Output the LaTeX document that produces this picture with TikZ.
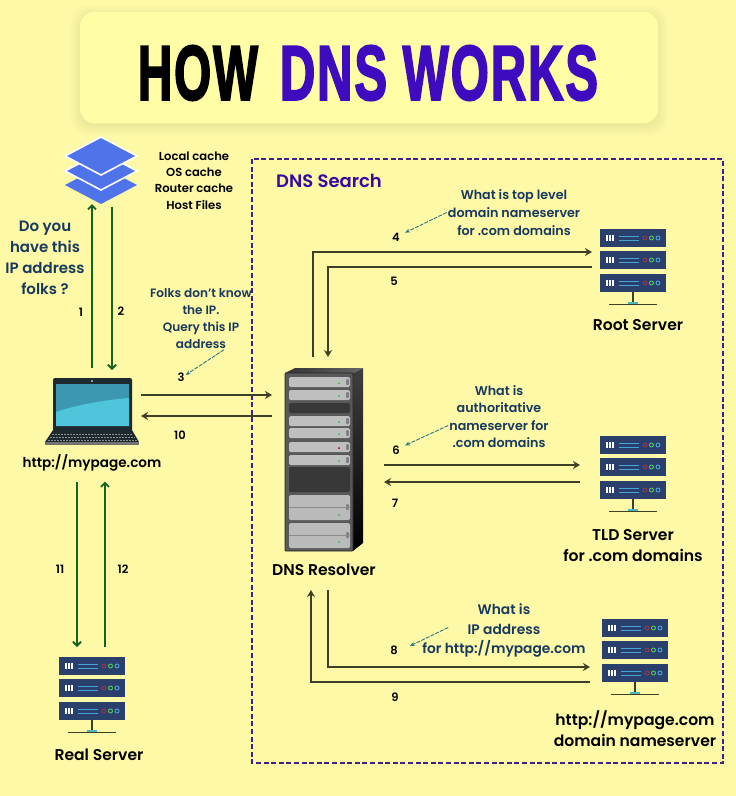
\documentclass[tikz,border=0pt]{standalone}
\usepackage{fontspec}
\setmainfont{Poppins}[BoldFont=Poppins SemiBold]
\newfontfamily\titlefont{Liberation Sans}[BoldFeatures={FakeBold=3,LetterSpace=4}]
\usetikzlibrary{arrows.meta}
\definecolor{pagebg}{HTML}{FDF9A6}
\definecolor{panelbg}{HTML}{FFFEA6}
\definecolor{titleblue}{HTML}{3F0BBE}
\definecolor{boxedge}{HTML}{3D2288}
\definecolor{asknavy}{HTML}{17395F}
\definecolor{flowdark}{HTML}{3F3F26}
\definecolor{flowgreen}{HTML}{14641F}
\definecolor{notearrow}{HTML}{2B7A86}
\definecolor{layerblue}{HTML}{4F74EA}
\definecolor{srvbar}{HTML}{2A3F6C}
\definecolor{srvline}{HTML}{46A4D6}
\definecolor{srvteal}{HTML}{4DB8B8}
\definecolor{lapbezel}{HTML}{1F2A30}
\definecolor{lapscreen}{HTML}{3C98B0}
\definecolor{lapglow}{HTML}{4FC5DC}
\tikzset{
  iconbox/.style={inner sep=0pt,outer sep=0pt},
  asktext/.style={inner sep=1pt,align=center,text=asknavy,font=\bfseries\fontsize{12.7}{17.6}\selectfont},
  srvtext/.style={inner sep=1pt,align=center,text=black,font=\bfseries\fontsize{15.6}{21}\selectfont},
  numtext/.style={inner sep=1pt,text=black,font=\fontsize{11.5}{14}\selectfont\bfseries},
  flowline/.style={draw=flowdark,line width=1.9pt,-{Stealth[length=7pt,width=8pt]}},
  greenline/.style={draw=flowgreen,line width=1.9pt,-{Straight Barb[length=4pt,width=8pt]}},
  noteline/.style={draw=notearrow,line width=.9pt,dash pattern=on 4pt off 1.2pt,-{Stealth[length=5pt,width=4pt]}},
  serverpic/.pic={
    \foreach \bartop in {-38,-16,7} {
      \fill[srvbar] (-33,\bartop) rectangle (33,\bartop+18);
      \foreach \tickx in {-26,-23,-20}
        \draw[white,line width=1.2pt] (\tickx,\bartop+6) -- (\tickx,\bartop+12);
      \draw[srvline,line width=1pt] (-14,\bartop+7) -- (6,\bartop+7);
      \draw[srvline,line width=1pt] (-14,\bartop+11) -- (6,\bartop+11);
      \draw[red!45!srvbar!90!white,line width=.9pt] (12,\bartop+9) circle (2pt);
      \draw[green!60!white!80!black,line width=.9pt] (18.5,\bartop+9) circle (2pt);
      \draw[srvline,line width=.9pt] (25,\bartop+9) circle (2pt);
    }
    \draw[flowdark,line width=1.1pt] (0,25) -- (0,37);
    \draw[flowdark,line width=1.1pt] (-24,37.5) -- (24,37.5);
    \fill[srvteal] (-5,34.5) rectangle (5,37);
  }
}
\begin{document}
\begin{tikzpicture}[x=1pt,y=-1pt]
  \useasboundingbox (0,0) rectangle (736,796);
  \fill[pagebg] (0,0) rectangle (736,796);

  \foreach \grow in {9,7,5,3,1}
    \fill[black,opacity=.012,rounded corners=16pt] (80-\grow,12-\grow+3) rectangle (658+\grow,123+\grow+3);
  \fill[panelbg,rounded corners=14pt] (80,12) rectangle (658,123);

  \path
  (198,73) node[inner sep=0pt,text=black](titlehow) {\resizebox{120pt}{54pt}{\titlefont\bfseries HOW}}
  (439,73) node[inner sep=0pt,text=titleblue](titledns) {\resizebox{318pt}{54pt}{\titlefont\bfseries DNS WORKS}}
  ;

  \draw[boxedge,line width=1.5pt,dash pattern=on 5pt off 2.6pt] (252,159) rectangle (723,763);
  \path
  (329,181) node[inner sep=0pt,text=titleblue!85!black,font=\bfseries\fontsize{18}{20}\selectfont](searchlbl) {DNS Search}
  ;

  % cache stack
  \path
  (101,170.5) node[iconbox,minimum width=72pt,minimum height=67pt](cachestack) {}
  ;
  \fill[layerblue] (65,185) -- (101,166) -- (137,185) -- (101,204) -- cycle;
  \draw[white,line width=1.6pt,fill=layerblue] (65,171) -- (101,152) -- (137,171) -- (101,190) -- cycle;
  \draw[white,line width=1.6pt,fill=layerblue] (65,156) -- (101,137) -- (137,156) -- (101,175) -- cycle;

  \path
  (194,180.5) node[inner sep=1pt,align=center,text=black,font=\bfseries\fontsize{11.6}{16.4}\selectfont](cachelbl) {Local cache\\OS cache\\Router cache\\Host Files}
  (45,258) node[inner sep=1pt,align=center,text=asknavy,font=\bfseries\fontsize{15}{20.8}\selectfont](askfolks) {Do you\\have this\\IP address\\folks ?}
  (201,318.5) node[asktext,font=\bfseries\fontsize{12.1}{17}\selectfont](askquery) {Folks don't know\\the IP.\\Query this IP\\address}
  (514,212.5) node[asktext](asktop) {What is top level\\domain nameserver\\for .com domains}
  (499,416.5) node[asktext](askauth) {What is\\authoritative\\nameserver for\\.com domains}
  (504,630.5) node[asktext,font=\bfseries\fontsize{13.8}{19.6}\selectfont](askip) {What is\\IP address\\for http://mypage.com}
  ;

  % laptop
  \path
  (92,411.5) node[iconbox,minimum width=94pt,minimum height=67pt](laptop) {}
  (92,463) node[srvtext,font=\bfseries\fontsize{13.6}{16}\selectfont](laptoplbl) {http://mypage.com}
  ;
  \fill[lapbezel,rounded corners=2pt] (53,378) rectangle (132,432);
  \fill[lapscreen] (56,384) rectangle (129,426);
  \fill[lapglow] (56,426) -- (56,412) .. controls (80,404) and (105,400) .. (129,398) -- (129,426) -- cycle;
  \fill[white] (92,381) circle (.9pt);
  \fill[lapbezel] (53,430) -- (132,430) -- (139,442) -- (45,442) -- cycle;
  \fill[black!55] (45,442) -- (139,442) -- (139,445) -- (45,445) -- cycle;
  \foreach \keyy/\keyl/\keyr in {434/52/133,437/50/135,440/48/137}
    \draw[white!55!black,line width=.7pt,dash pattern=on 2pt off 1pt] (\keyl,\keyy) -- (\keyr,\keyy);

  % resolver rack
  \path
  (324,459.5) node[iconbox,minimum width=78pt,minimum height=183pt](resolver) {}
  (324,570) node[srvtext](resolverlbl) {DNS Resolver}
  ;
  \shade[top color=black!75,bottom color=black] (353,373) -- (363,368) -- (363,543) -- (353,551) -- cycle;
  \shade[left color=black!80,right color=black!60] (285,373) -- (295,368) -- (363,368) -- (353,373) -- cycle;
  \fill[black!65,draw=black!85,line width=.8pt,rounded corners=1pt] (285,373) rectangle (353,551);
  \foreach \unittop/\unithigh/\unitshade in {377/10/black!25,390/10/black!25,403/10/black!78,416/10/black!25,428/10/black!25,442/10/black!25,455/10/black!25,467/25/black!78,495/25/black!27,523/25/black!27}
    \fill[\unitshade,rounded corners=1.5pt] (289,\unittop) rectangle (350,\unittop+\unithigh);
  \foreach \ledy in {383,396,422,434,461,515,542}
    \fill[green!55!black!70!white] (339,\ledy) circle (1pt);
  \fill[red!60!black] (339,448) circle (1pt);
  \foreach \knoby in {382,395,421,433,447,460,507,535}
    \fill[black!50,rounded corners=1pt] (346,\knoby-3) rectangle (349,\knoby+3);
  \foreach \liney in {507,535}
    \draw[black!45,line width=.5pt] (289,\liney) -- (350,\liney);

  % servers
  \path
  (633,267) node[iconbox,outer xsep=8pt,minimum width=66pt,minimum height=76pt](rootsrv) {}
  (633,474) node[iconbox,outer xsep=20pt,minimum width=66pt,minimum height=76pt](tldsrv) {}
  (635,657) node[iconbox,outer xsep=12pt,minimum width=66pt,minimum height=76pt](pagesrv) {}
  (92,695) node[iconbox,outer ysep=10pt,minimum width=66pt,minimum height=76pt](realsrv) {}
  (638,325) node[srvtext](rootlbl) {Root Server}
  (633,545.5) node[srvtext](tldlbl) {TLD Server\\for .com domains}
  (635,728.5) node[srvtext](pagelbl) {http://mypage.com\\domain nameserver}
  (99,755) node[srvtext](reallbl) {Real Server}
  ;
  \pic at (633,267) {serverpic};
  \pic at (633,474) {serverpic};
  \pic at (635,657) {serverpic};
  \pic at (92,695) {serverpic};

  % step numbers
  \path
  (81,312) node[numtext](num1) {1}
  (121,311) node[numtext](num2) {2}
  (181,377) node[numtext](num3) {3}
  (396,237) node[numtext](num4) {4}
  (394,281) node[numtext](num5) {5}
  (396,450) node[numtext](num6) {6}
  (395,503) node[numtext](num7) {7}
  (394,650) node[numtext](num8) {8}
  (395,697) node[numtext](num9) {9}
  (180,435) node[numtext](num10) {10}
  (60,569) node[numtext](num11) {11}
  (123,569) node[numtext](num12) {12}
  ;

  \draw[greenline] ([yshift=10pt]laptop.north) -- (laptop.north |- cachestack.south);
  \draw[greenline] ([shift={(11pt,-3pt)}]cachestack.south) -- ([shift={(20pt,8pt)}]laptop.north);

  \draw[flowline] ([shift={(2pt,16.5pt)}]laptop.east) -- ([shift={(-13pt,64.5pt)}]resolver.west);
  \draw[flowline] ([shift={(-13pt,43.5pt)}]resolver.west) -- ([shift={(2pt,-4.5pt)}]laptop.east);

  \draw[flowline] ([shift={(-11pt,11pt)}]resolver.north) |- ([yshift=15pt]rootsrv.west);
  \draw[flowline] (rootsrv.west) -| ([shift={(4pt,11pt)}]resolver.north);

  \draw[flowline] ([shift={(21pt,-5.5pt)}]resolver.east) -- ([yshift=9pt]tldsrv.west);
  \draw[flowline] ([yshift=-8pt]tldsrv.west) -- ([shift={(21pt,-22.5pt)}]resolver.east);

  \draw[flowline] ([shift={(4pt,-39pt)}]resolver.south) |- ([yshift=-10pt]pagesrv.west);
  \draw[flowline] ([yshift=-25pt]pagesrv.west) -| ([shift={(-13pt,-39pt)}]resolver.south);

  \draw[greenline] ([shift={(-15pt,-9pt)}]laptoplbl.south) -- ([xshift=-15pt]realsrv.north);
  \draw[greenline] ([xshift=13pt]realsrv.north) -- ([shift={(13pt,-9pt)}]laptoplbl.south);

  \draw[noteline] ([xshift=23pt]askquery.south) -- ([yshift=2pt]num3.east);
  \draw[noteline] (asktop.west) -- ([shift={(4pt,-1pt)}]num4.north east);
  \draw[noteline] ([yshift=-9pt]askauth.west) -- ([shift={(4pt,-1pt)}]num6.north east);
  \draw[noteline] ([shift={(27pt,3pt)}]askip.west) -- ([shift={(11pt,4pt)}]num8.east);
\end{tikzpicture}
\end{document}
